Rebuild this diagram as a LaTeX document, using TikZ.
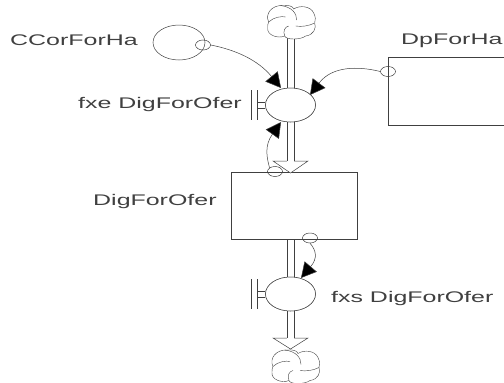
\documentclass[tikz,border=0pt]{standalone}
\usepackage{fontspec}
\setmainfont{Liberation Sans}
\usetikzlibrary{arrows.meta,calc,shapes.geometric}
\definecolor{ink}{gray}{0.25}
\newcommand{\wide}[1]{\scalebox{1.62}[1]{\fontsize{15.4}{18}\selectfont #1}}
\newcommand{\pipeline}[2]{%
  \draw[ln] ([xshift=-3.7pt]#1) -- ([xshift=-3.7pt]#1 |- #2);
  \draw[ln] ([xshift=3.7pt]#1) -- ([xshift=3.7pt]#1 |- #2);}
\newcommand{\cloudlines}[1]{%
  \begin{scope}[shift={(#1)},line width=0.4pt,draw=ink]
    \draw[fill=white] (-23,0) .. controls (-27,-8) and (-20,-17) .. (-9,-16.5)
      .. controls (-3,-17) and (1,-16) .. (2,-13)
      .. controls (8,-17) and (19,-16) .. (22,-9)
      .. controls (24,-5) and (24,-2) .. (23,1)
      .. controls (25,6) and (22,13) .. (14,14)
      .. controls (9,18) and (-6,18) .. (-7,14)
      .. controls (-14,17) and (-25,13) .. (-24,6)
      .. controls (-24,3) and (-24,2) .. (-23,0) -- cycle;
    \draw (-11,-16.5) .. controls (0,-15) and (5,-9) .. (5,-2);
    \draw (23,1) .. controls (17,4) and (10,5) .. (4,4);
    \draw (-7,14) .. controls (-9,9) and (-7,5) .. (-3,4);
    \draw (-23,0) .. controls (-18,-5) and (-10,-6) .. (-6,-5);
  \end{scope}}
\tikzset{
  x=1pt,y=-1pt,
  ln/.style={draw=ink,line width=0.5pt},
  valve/.style={ln,fill=white,shape=ellipse,inner sep=0pt,minimum width=50pt,minimum height=34pt},
  stockbox/.style={ln,fill=white,shape=rectangle,inner sep=0pt},
  aux/.style={ln,shape=ellipse,inner sep=0pt,minimum width=15pt,minimum height=10pt},
  link/.style={ln,-{Triangle[length=15pt,width=16pt,fill=black]}},
  lbl/.style={anchor=base west,inner sep=0pt,text=ink},
  cloudbox/.style={shape=rectangle,inner sep=0pt,minimum width=46pt,minimum height=32pt}
}
\begin{document}
\begin{tikzpicture}
\useasboundingbox (0,0) rectangle (504,383);
% nodes
\node[cloudbox] (c1) at (291.7,22) {};
\node[cloudbox] (c2) at (296,366.5) {};
\node[valve] (v1) at (290.5,105) {};
\node[valve] (v2) at (290.5,294) {};
\node[stockbox,minimum width=126pt,minimum height=67pt] (s1) at (294,205.5) {};
\node[stockbox,minimum width=130pt,minimum height=68pt,anchor=north west] (s2) at (388,57) {};
\node[ln,shape=ellipse,inner sep=0pt,minimum width=52pt,minimum height=35pt] (k) at (179,42.5) {};
\coordinate (h1) at (290.5,161);
\coordinate (h2) at (290.5,338);
% pipes
\pipeline{v1.north}{c1.south}
\pipeline{v1.south}{h1}
\pipeline{v2.north}{s1.south}
\pipeline{v2.south}{h2}
\foreach \h/\t in {h1/12,h2/11}{
  \fill[white] (\h) ++(-17.5,0) -- ++(35,0) -- ++(-17.5,\t) -- cycle;
  \draw[ln] (\h) ++(-3.7,0) -- ++(-13.8,0) -- ++(17.5,\t) -- ++(17.5,-\t) -- ++(-13.8,0);
}
\node[valve] at (v1) {};
\node[valve] at (v2) {};
% flow regulators
\draw[ln] ($(v1.west)+(-14,-15)$) -- ++(0,30) ($(v1.west)+(-8,-15)$) -- ++(0,30);
\draw[ln] ($(v1.west)+(-8,-3)$) -- ++(8,0) ($(v1.west)+(-8,3)$) -- ++(8,0);
\draw[ln] ($(v2.west)+(-14,-15)$) -- ++(0,30) ($(v2.west)+(-8,-15)$) -- ++(0,30);
\draw[ln] ($(v2.west)+(-8,-3)$) -- ++(8,0) ($(v2.west)+(-8,3)$) -- ++(8,0);
\cloudlines{c1}
\cloudlines{c2}
% auxiliary small circles
\node[aux] (a1) at (203,45) {};
\node[aux] (a2) at (388,71.5) {};
\node[aux] (a3) at (275,171.5) {};
\node[aux] (a4) at (310,238) {};
\coordinate (t1) at (281,88);
\coordinate (t2) at (310,95);
\coordinate (t3) at (281,122);
\coordinate (t4) at (301,278);
% links
\draw[link] (a1.east) .. controls (236,50) and (258,60) .. (t1);
\draw[link] (a2.west) .. controls (358,66) and (332,66) .. (t2);
\draw[link] (a3.north west) .. controls (267,158) and (264,146) .. (t3);
\draw[link] (a4.south) .. controls (316,250) and (318,258) .. (t4);
% labels
\node[lbl] (l1) at (10,45) {\wide{CCorForHa}};
\node[lbl] (l2) at (401,44) {\wide{DpForHa}};
\node[lbl] (l3) at (78,108) {\wide{fxe DigForOfer}};
\node[lbl] (l4) at (93,205) {\wide{DigForOfer}};
\node[lbl] (l5) at (331,302) {\wide{fxs DigForOfer}};
\end{tikzpicture}
\end{document}
